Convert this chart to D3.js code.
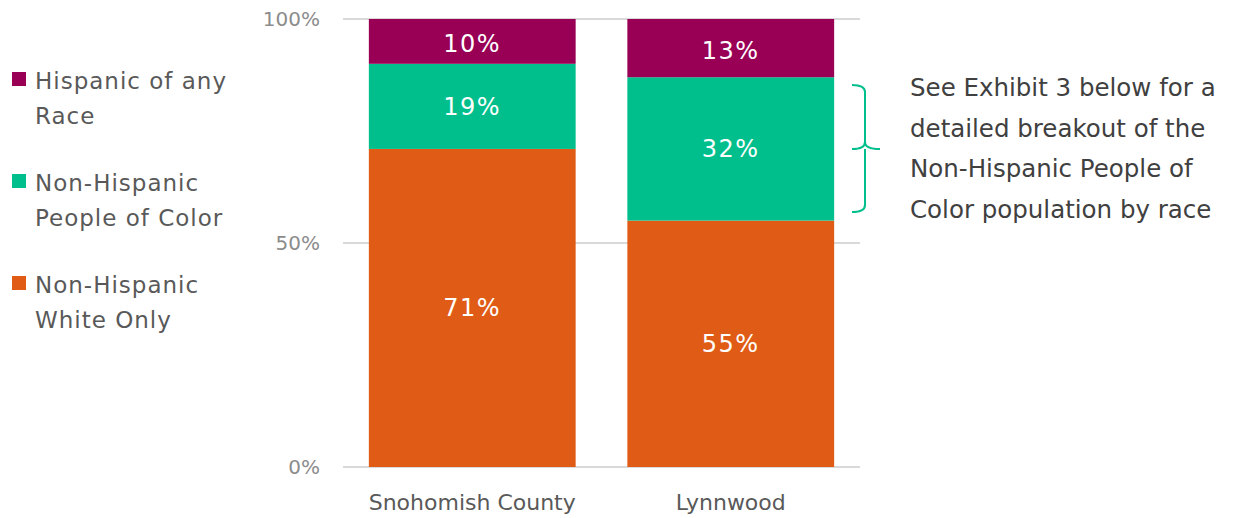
<!DOCTYPE html>
<html><head><meta charset="utf-8">
<script src="https://cdn.jsdelivr.net/npm/d3@7"></script>
<style>body{margin:0;background:#fff}svg{display:block}text{font-family:"Century Gothic","DejaVu Sans",sans-serif}</style>
</head><body><svg id="c" width="1246" height="518"></svg>
<script>
const categories = ["Snohomish County", "Lynnwood"];
const seriesNames = ["Non-Hispanic White Only", "Non-Hispanic People of Color", "Hispanic of any Race"];
const whiteOnly = [71, 55];
const peopleOfColor = [19, 32];
const hispanic = [10, 13];
const yTicks = [0, 50, 100];
const tickLabels = ["0%", "50%", "100%"];
const colors = ["#E05C16", "#00BF8C", "#990055"];
const legendLines = [["Hispanic of any", "Race"], ["Non-Hispanic", "People of Color"], ["Non-Hispanic", "White Only"]];
const noteLines = ["See Exhibit 3 below for a", "detailed breakout of the", "Non-Hispanic People of", "Color population by race"];

const svg = d3.select("#c");
const x = d3.scaleBand().domain(categories).range([343, 860]).paddingInner(0.2).paddingOuter(0.1);
const y = d3.scaleLinear().domain([0, 100]).range([467, 19]);

// gridlines
svg.append("g").selectAll("line").data(yTicks).join("line")
  .attr("x1", 343).attr("x2", 860).attr("y1", d => y(d)).attr("y2", d => y(d))
  .attr("stroke", "#d9d9d9").attr("stroke-width", 2);

const rows = categories.map((c, i) => ({cat: c, s0: whiteOnly[i], s1: peopleOfColor[i], s2: hispanic[i]}));
const stack = d3.stack().keys(["s0", "s1", "s2"])(rows);

const g = svg.append("g");
stack.forEach((layer, li) => {
  layer.forEach(d => {
    g.append("rect").attr("x", x(d.data.cat)).attr("width", x.bandwidth())
      .attr("y", y(d[1])).attr("height", y(d[0]) - y(d[1])).attr("fill", colors[li]);
  });
});
stack.forEach((layer, li) => {
  layer.forEach(d => {
    const top = li === 2 ? 2 : 0;
    g.append("text").attr("x", x(d.data.cat) + x.bandwidth() / 2).attr("y", (y(d[0]) + y(d[1])) / 2 + top)
      .attr("dy", "0.35em").attr("text-anchor", "middle").attr("fill", "#fff")
      .attr("font-size", 24).attr("letter-spacing", 1.5).text((d[1] - d[0]) + "%");
  });
});

// y axis labels
svg.append("g").selectAll("text").data(yTicks).join("text")
  .attr("x", 320).attr("y", d => y(d)).attr("dy", "0.35em").attr("text-anchor", "end")
  .attr("fill", "#8c8c8c").attr("font-size", 20).text((d, i) => tickLabels[i]);

// x axis labels
svg.append("g").selectAll("text").data(categories).join("text")
  .attr("x", d => x(d) + x.bandwidth() / 2).attr("y", 510).attr("text-anchor", "middle")
  .attr("fill", "#595959").attr("font-size", 22).text(d => d);

// legend
const legColors = [colors[2], colors[1], colors[0]];
const leg = svg.append("g");
legendLines.forEach((lines, i) => {
  const base = 89 + i * 102;
  leg.append("rect").attr("x", 12).attr("y", base - 17).attr("width", 14).attr("height", 14).attr("fill", legColors[i]);
  lines.forEach((t, j) => {
    leg.append("text").attr("x", 35).attr("y", base + j * 35).attr("fill", "#595959")
      .attr("font-size", 23).attr("letter-spacing", 1).text(t);
  });
});

// bracket
svg.append("path")
  .attr("d", "M852,85 Q865,85 865,92 L865,142 Q865,149 880,149 M865,142 Q865,149 852,149 M865,149 Q865,156 865,156 L865,205 Q865,212 852,212")
  .attr("fill", "none").attr("stroke", "#00BF8C").attr("stroke-width", 2);

// note
svg.append("g").selectAll("text").data(noteLines).join("text")
  .attr("x", 910).attr("y", (d, i) => 96 + i * 40.5).attr("fill", "#404040").attr("font-size", 24.5).text(d => d);
</script></body></html>
